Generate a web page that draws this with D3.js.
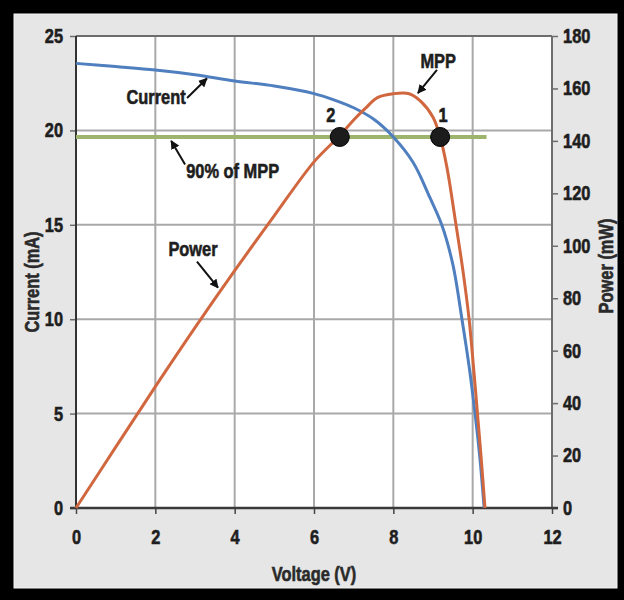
<!DOCTYPE html>
<html>
<head>
<meta charset="utf-8">
<script src="https://cdn.jsdelivr.net/npm/d3@7"></script>
<style>
  html, body { margin: 0; padding: 0; background: #000; }
  svg { display: block; }
  text { font-family: "Liberation Sans", Arial, sans-serif; font-weight: bold; }
</style>
</head>
<body>
<svg id="chart" width="624" height="600"></svg>
<script>
// ---- data ----
const currentVoltage = [0, 1, 2, 3, 4, 5, 6, 6.5, 7, 7.5, 8, 8.5, 8.92, 9.22, 9.5, 9.73, 9.91, 10.06, 10.18, 10.29];
const currentValues  = [23.55, 23.38, 23.2, 22.95, 22.62, 22.35, 21.95, 21.62, 21.2, 20.6, 19.65, 18.3, 16.45, 15.0, 12.9, 10.0, 7.5, 5.0, 2.7, 0];

const powerVoltage = [0, 1, 2, 3, 4, 5, 6, 6.65, 7, 7.3, 7.6, 8, 8.4, 8.7, 9, 9.18, 9.35, 9.58, 9.75, 9.91, 10.02, 10.12, 10.22, 10.31];
const powerValues  = [0, 23.2, 46.3, 68.8, 90.5, 111.5, 132, 142, 148, 152.5, 156.5, 158, 158, 155, 149, 141.5, 130, 108, 91, 72, 54, 36.2, 18, 0];

const ninetyPercentLevel = 141.5;        // mW, 90% of MPP
const ninetyPercentRange = [0, 10.35];   // V
const markerVoltages = [6.65, 9.18];
const markerLabels = ["2", "1"];

const xTicks = [0, 2, 4, 6, 8, 10, 12];
const leftTicks = [0, 5, 10, 15, 20, 25];
const rightTicks = [0, 20, 40, 60, 80, 100, 120, 140, 160, 180];

// ---- layout ----
const svg = d3.select("#chart");
const W = 624, H = 600;
const plot = { left: 76, right: 552, top: 36, bottom: 508 };

const x = d3.scaleLinear().domain([0, 12]).range([plot.left, plot.right]);
const yI = d3.scaleLinear().domain([0, 25]).range([plot.bottom, plot.top]);
const yP = d3.scaleLinear().domain([0, 180]).range([plot.bottom, plot.top]);

// frame
svg.append("rect").attr("width", W).attr("height", H).attr("fill", "#000");
svg.append("rect").attr("x", 14).attr("y", 14).attr("width", 603).attr("height", 574)
  .attr("fill", "#e6e6e6").attr("stroke", "#f4f4f4").attr("stroke-width", 1);
svg.append("rect").attr("x", plot.left).attr("y", plot.top)
  .attr("width", plot.right - plot.left).attr("height", plot.bottom - plot.top).attr("fill", "#fff");

// grid
const grid = svg.append("g").attr("stroke", "#a9a9a9").attr("stroke-width", 2);
grid.selectAll("line.v").data(xTicks.filter(d => d > 0 && d < 12)).join("line")
  .attr("x1", d => x(d)).attr("x2", d => x(d)).attr("y1", plot.top).attr("y2", plot.bottom);
grid.selectAll("line.h").data(leftTicks.filter(d => d > 0 && d < 25)).join("line")
  .attr("x1", plot.left).attr("x2", plot.right).attr("y1", d => yI(d)).attr("y2", d => yI(d));

// top frame line
svg.append("line").attr("x1", plot.left).attr("x2", plot.right).attr("y1", plot.top).attr("y2", plot.top)
  .attr("stroke", "#6d6d6d").attr("stroke-width", 2);

// axes
function styleAxis(g, color, width) {
  g.select(".domain").remove();
  g.selectAll(".tick line").attr("stroke", color).attr("stroke-width", width);
  g.selectAll(".tick text").attr("fill", "#1e1e1e").style("font-size", "20px");
}
const gLeft = svg.append("g").attr("transform", `translate(${plot.left},0)`)
  .call(d3.axisLeft(yI).tickValues(leftTicks).tickSize(6).tickPadding(7));
styleAxis(gLeft, "#6d6d6d", 1.5);
const gRight = svg.append("g").attr("transform", `translate(${plot.right},0)`)
  .call(d3.axisRight(yP).tickValues(rightTicks).tickSize(6).tickPadding(5));
styleAxis(gRight, "#6d6d6d", 1.5);
const gBottom = svg.append("g").attr("transform", `translate(0,${plot.bottom})`)
  .call(d3.axisBottom(x).tickValues(xTicks).tickSize(6).tickPadding(16));
styleAxis(gBottom, "#444", 1.5);

// axis lines
svg.append("line").attr("x1", plot.right).attr("x2", plot.right).attr("y1", plot.top).attr("y2", plot.bottom)
  .attr("stroke", "#6d6d6d").attr("stroke-width", 2);
svg.append("line").attr("x1", plot.left).attr("x2", plot.left).attr("y1", plot.top).attr("y2", plot.bottom)
  .attr("stroke", "#333").attr("stroke-width", 2);
svg.append("line").attr("x1", plot.left - 6).attr("x2", plot.right + 6).attr("y1", plot.bottom).attr("y2", plot.bottom)
  .attr("stroke", "#3a3a3a").attr("stroke-width", 2.5);

// axis titles
svg.append("text").attr("x", (plot.left + plot.right) / 2).attr("y", 581)
  .attr("text-anchor", "middle").attr("fill", "#2a2a2a").style("font-size", "20px").text("Voltage (V)");
svg.append("text").attr("transform", "translate(39,282) rotate(-90)")
  .attr("text-anchor", "middle").attr("fill", "#2a2a2a").style("font-size", "20px").text("Current (mA)");
svg.append("text").attr("transform", "translate(613,266) rotate(-90)")
  .attr("text-anchor", "middle").attr("fill", "#2a2a2a").style("font-size", "20px").text("Power (mW)");

// 90% of MPP line
svg.append("line")
  .attr("x1", x(ninetyPercentRange[0])).attr("x2", x(ninetyPercentRange[1]))
  .attr("y1", yP(ninetyPercentLevel)).attr("y2", yP(ninetyPercentLevel))
  .attr("stroke", "#9db46c").attr("stroke-width", 4);

// curves
const currentData = currentVoltage.map((v, i) => [v, currentValues[i]]);
const powerData = powerVoltage.map((v, i) => [v, powerValues[i]]);
svg.append("path").datum(currentData)
  .attr("d", d3.line().x(d => x(d[0])).y(d => yI(d[1])).curve(d3.curveCatmullRom.alpha(0.5)))
  .attr("fill", "none").attr("stroke", "#4f7fbf").attr("stroke-width", 3);
svg.append("path").datum(powerData)
  .attr("d", d3.line().x(d => x(d[0])).y(d => yP(d[1])).curve(d3.curveCatmullRom.alpha(0.5)))
  .attr("fill", "none").attr("stroke", "#d1673f").attr("stroke-width", 3);

// markers
svg.selectAll("circle.mk").data(markerVoltages).join("circle")
  .attr("cx", d => x(d)).attr("cy", yP(ninetyPercentLevel)).attr("r", 9.5)
  .attr("fill", "#1c1c1c").attr("stroke", "#000").attr("stroke-width", 1);
svg.selectAll("text.mk").data(markerVoltages).join("text")
  .attr("x", (d, i) => x(d) + (i === 0 ? -9 : 3)).attr("y", 122)
  .attr("text-anchor", "middle").attr("fill", "#1e1e1e").style("font-size", "20px")
  .text((d, i) => markerLabels[i]);

// annotations
svg.append("defs").append("marker").attr("id", "ah").attr("viewBox", "0 0 10 10")
  .attr("refX", 9).attr("refY", 5).attr("markerWidth", 4.5).attr("markerHeight", 4.5)
  .attr("orient", "auto-start-reverse")
  .append("path").attr("d", "M0,0 L10,5 L0,10 z").attr("fill", "#111");

function annotate(label, tx, ty, ax1, ay1, ax2, ay2) {
  svg.append("text").attr("x", tx).attr("y", ty).attr("text-anchor", "middle")
    .attr("fill", "#1e1e1e").style("font-size", "20px").text(label);
  svg.append("line").attr("x1", ax1).attr("y1", ay1).attr("x2", ax2).attr("y2", ay2)
    .attr("stroke", "#111").attr("stroke-width", 2).attr("marker-end", "url(#ah)");
}
annotate("Current", x(2.02), yI(21.4), x(2.8), yI(21.72), x(3.3), yI(22.75));
annotate("MPP", x(9.13), yI(23.3), x(9.1), yI(23.2), x(8.62), yI(21.98));
annotate("90% of MPP", x(3.95), yP(126), x(2.75), yP(131), x(2.4), yP(140));
annotate("Power", x(2.95), yP(96), x(3.05), yP(94), x(3.58), yP(84));

// condense all text horizontally and thicken it (heavy narrow face look)
svg.selectAll("text").each(function () {
  const w = this.getComputedTextLength();
  if (w > 0) {
    this.setAttribute("textLength", (w * 0.82).toFixed(1));
    this.setAttribute("lengthAdjust", "spacingAndGlyphs");
  }
  const f = this.getAttribute("fill") || "#1e1e1e";
  this.setAttribute("stroke", f);
  this.setAttribute("stroke-width", "0.6");
});
</script>
</body>
</html>
